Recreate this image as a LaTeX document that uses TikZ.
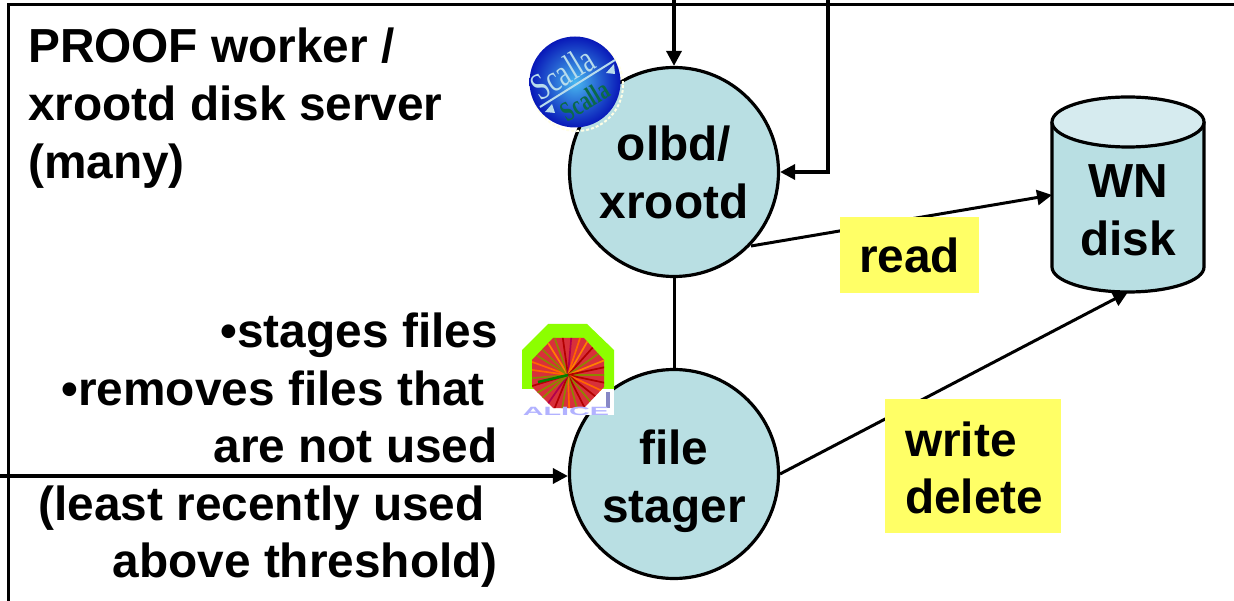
\documentclass[tikz,border=0pt]{standalone}
\usepackage{fontspec}
\setmainfont{Liberation Sans}
\newfontfamily\logofont{Liberation Serif}
\usetikzlibrary{arrows.meta}
\definecolor{bodyfill}{HTML}{B9DFE3}
\definecolor{capfill}{HTML}{D6EBEF}
\definecolor{notefill}{HTML}{FFFF66}
\definecolor{alicegreen}{HTML}{8CFF00}
\definecolor{alicered}{HTML}{D8303A}
\definecolor{sctop}{HTML}{B8DCEC}
\definecolor{scgreen}{HTML}{0A6A4A}
\definecolor{scout}{HTML}{0818B8}
\definecolor{scin}{HTML}{48B8F0}
\tikzset{
  lbl/.style={font=\fontsize{47.8}{47.8}\bfseries\selectfont, inner sep=0pt},
  circ/.style={circle, draw=black, fill=bodyfill, line width=3.2pt, minimum size=209pt, inner sep=0pt},
  note/.style={fill=notefill, inner sep=0pt},
  conn/.style={line width=3.4pt, draw=black},
  thin conn/.style={line width=3pt, draw=black},
  arr/.style={-{Triangle[length=15pt,width=15pt]}},
  frameline/.style={line width=3pt, draw=black},
}
\begin{document}
\begin{tikzpicture}[x=1pt,y=-1pt]
\useasboundingbox (0,0) rectangle (1234,601);
\fill[white] (0,0) rectangle (1234,601);
% frame
\coordinate (frameTL) at (8,5);
\coordinate (frameTR) at (1234,5);
\coordinate (frameBL) at (8,601);
\draw[frameline] (frameBL) -- (frameTL) -- (frameTR);
% nodes
\node[circ] (olbd) at (674,172) {};
\node[circ] (stager) at (674,474) {};
% cylinder
\path[fill=bodyfill,draw=black,line width=3.2pt]
  (1052,122) -- (1052,267) arc[start angle=180,end angle=0,x radius=76,y radius=25]
  -- (1204,122);
\path[fill=capfill,draw=black,line width=3.2pt]
  (1128,122) ellipse[x radius=76,y radius=25];
\node[minimum width=152pt,minimum height=196pt,inner sep=0pt] (disk) at (1128,194) {};
% connectors
\coordinate (topA) at (674,0);
\coordinate (topB) at (828,0);
\coordinate (leftIn) at (0,476);
\coordinate (readEnd) at (1052,195);
\coordinate (writeEnd) at (1128,292);
\coordinate (readStart) at (751,246);
\coordinate (writeStart) at (780,474);
\draw[conn,arr] (topA) -- (olbd.north);
\draw[conn,arr] (topB) |- (olbd.east);
\draw[conn,arr] (leftIn) -- (stager.west |- leftIn);
\draw[thin conn] (olbd.south) -- (stager.north);
\draw[thin conn,arr] (readStart) -- (readEnd);
\draw[thin conn,arr] (writeStart) -- (writeEnd);
% notes
\node[note,minimum width=139pt,minimum height=76pt] (readbox) at (909.5,255) {};
\node[note,minimum width=176pt,minimum height=134pt] (writebox) at (973,466) {};
% texts
\node[lbl,anchor=base west] (t1) at (28,63) {PROOF worker /};
\node[lbl,anchor=base west] (t2) at (28,121) {xrootd disk server};
\node[lbl,anchor=base west] (t3) at (28,179) {(many)};
\node[lbl,anchor=base east] (b1) at (498,348) {•stages files};
\node[lbl,anchor=base east] (b2) at (485,405) {•removes files that};
\node[lbl,anchor=base east] (b3) at (498,462) {are not used};
\node[lbl,anchor=base east] (b4) at (485,520) {(least recently used};
\node[lbl,anchor=base east] (b5) at (498,577) {above threshold)};
\node[lbl,anchor=base] (c1) at (674,161) {olbd/};
\node[lbl,anchor=base] (c2) at (674,219) {xrootd};
\node[lbl,anchor=base] (c3) at (674,464) {file};
\node[lbl,anchor=base] (c4) at (674,522) {stager};
\node[lbl,anchor=base] (d1) at (1128,198) {WN};
\node[lbl,anchor=base] (d2) at (1128,256) {disk};
\node[lbl,anchor=base] (r1) at (909.5,273) {read};
\node[lbl,anchor=base west] (w1) at (905,456) {write};
\node[lbl,anchor=base west] (w2) at (905,513) {delete};
% Scalla logo
\draw[white!90!yellow,line width=2pt,dash pattern=on 3pt off 2pt] (577,85) circle (46);
\shade[inner color=scin,outer color=scout] (575,82) circle (45.5);
\draw[sctop,line width=2pt] (540,107) -- (615,60);
\node[font=\logofont\fontsize{38}{38}\selectfont,text=sctop,rotate=31,xscale=.72,inner sep=0pt,anchor=base] (sc1) at (569,84) {Scalla};
\node[font=\logofont\bfseries\fontsize{28}{28}\selectfont,text=scgreen,rotate=31,xscale=.72,inner sep=0pt,anchor=base] (sc2) at (590,109) {Scalla};
\fill[sctop] (545,112) -- (555,113) -- (552,104) -- cycle;
\fill[sctop] (606,73) -- (614,64) -- (615,74) -- cycle;
% ALICE logo
\fill[alicegreen] (548,324) -- (587,324) -- (614,350) -- (614,389) -- (522,389) -- (522,350) -- cycle;
\fill[white] (522,389) rectangle (614,415);
\fill[alicered] (553,338) -- (584,338) -- (604,360) -- (604,387) -- (584,408) -- (553,408) -- (532,387) -- (532,360) -- cycle;
\begin{scope}
\clip (553,338) -- (584,338) -- (604,360) -- (604,387) -- (584,408) -- (553,408) -- (532,387) -- (532,360) -- cycle;
\foreach \a/\c in {0/olive,12/red!70!black,25/orange!80!red,38/red!70!black,50/olive,63/red!70!black,75/olive,88/orange!80!red,100/olive,112/red!70!black,125/violet!60!red,138/olive,150/olive,163/red!70!black,175/olive,188/orange!80!red,200/orange!80!red,212/olive,225/olive,238/orange,250/olive,262/red!70!black,275/violet!60!red,288/orange!80!red,300/orange,312/red!70!black,325/olive,338/orange,348/red!70!black}
  \draw[\c,line width=1.7pt] (568,375) -- ++(\a:52);
\draw[green!50!black,line width=2.5pt] (568,375) -- (538,382);
\end{scope}
\fill[blue!35!gray!70] (606,392) rectangle (610,408);
\node[font=\bfseries\fontsize{12}{12}\selectfont,text=blue!30!white,xscale=2.4,inner sep=0pt,anchor=base] (al) at (566,415) {ALICE};
\end{tikzpicture}
\end{document}
